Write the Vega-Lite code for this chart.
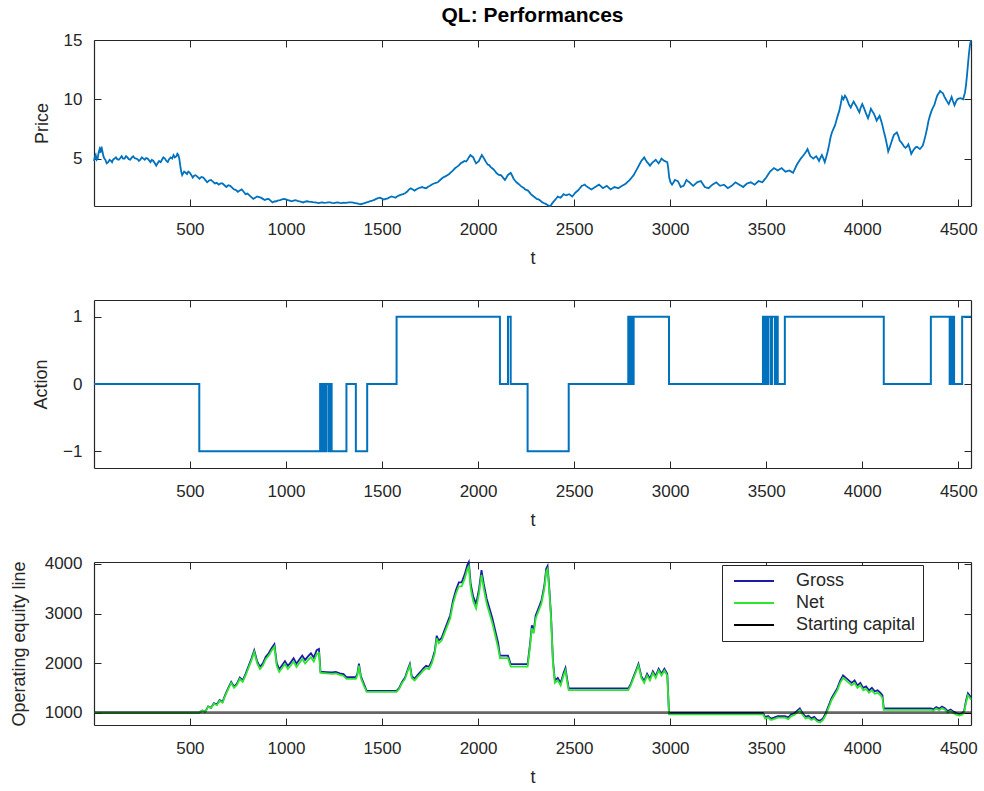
{
  "$schema": "https://vega.github.io/schema/vega-lite/v6.json",
  "background": "white",
  "padding": {"left": 10, "top": 5, "right": 10, "bottom": 4},
  "bounds": "flush",
  "spacing": 94,
  "config": {
    "font": "Liberation Sans",
    "view": {"stroke": null},
    "axis": {
      "grid": false,
      "domainColor": "#262626",
      "domainWidth": 1.2,
      "tickColor": "#262626",
      "tickWidth": 1,
      "tickSize": -7,
      "labelColor": "#262626",
      "labelFont": "Liberation Sans",
      "labelFontSize": 17,
      "labelFlush": false,
      "labelOverlap": false,
      "titleColor": "#262626",
      "titleFont": "Liberation Sans",
      "titleFontSize": 18,
      "titleFontWeight": "normal",
      "format": "d"
    },
    "axisX": {"labelPadding": 22, "titlePadding": 12},
    "axisY": {"labelPadding": 19, "titlePadding": 12},
    "line": {"strokeWidth": 1.8}
  },
  "datasets": {
    "price": [
      {"t": 1, "price": 4.8}, {"t": 5, "price": 5.1}, {"t": 10, "price": 5.3}, {"t": 15, "price": 4.9}, {"t": 20, "price": 5.0},
      {"t": 25, "price": 5.5}, {"t": 30, "price": 5.8}, {"t": 35, "price": 5.5}, {"t": 40, "price": 6.0}, {"t": 45, "price": 5.6},
      {"t": 50, "price": 5.2}, {"t": 55, "price": 5.0}, {"t": 60, "price": 4.9}, {"t": 67, "price": 4.6}, {"t": 75, "price": 4.7},
      {"t": 82, "price": 4.9}, {"t": 90, "price": 4.8}, {"t": 95, "price": 4.7}, {"t": 100, "price": 4.9}, {"t": 108, "price": 5.0},
      {"t": 115, "price": 5.1}, {"t": 122, "price": 4.95}, {"t": 130, "price": 4.9}, {"t": 138, "price": 5.05}, {"t": 145, "price": 5.2},
      {"t": 152, "price": 5.0}, {"t": 160, "price": 5.0}, {"t": 168, "price": 5.2}, {"t": 175, "price": 5.1}, {"t": 182, "price": 4.95},
      {"t": 190, "price": 4.9}, {"t": 198, "price": 5.1}, {"t": 205, "price": 5.2}, {"t": 212, "price": 5.05}, {"t": 220, "price": 5.0},
      {"t": 228, "price": 4.95}, {"t": 235, "price": 4.8}, {"t": 242, "price": 4.9}, {"t": 250, "price": 5.1}, {"t": 258, "price": 5.0},
      {"t": 265, "price": 4.9}, {"t": 272, "price": 5.05}, {"t": 280, "price": 5.0}, {"t": 288, "price": 4.85}, {"t": 295, "price": 4.7},
      {"t": 302, "price": 4.9}, {"t": 310, "price": 4.8}, {"t": 318, "price": 4.6}, {"t": 325, "price": 4.4}, {"t": 332, "price": 4.6},
      {"t": 340, "price": 4.8}, {"t": 348, "price": 4.7}, {"t": 355, "price": 4.9}, {"t": 362, "price": 5.1}, {"t": 370, "price": 5.0},
      {"t": 378, "price": 4.8}, {"t": 385, "price": 4.7}, {"t": 392, "price": 4.95}, {"t": 400, "price": 5.1}, {"t": 408, "price": 5.0},
      {"t": 415, "price": 5.3}, {"t": 422, "price": 5.1}, {"t": 430, "price": 5.2}, {"t": 435, "price": 5.4}, {"t": 440, "price": 5.3},
      {"t": 445, "price": 5.0}, {"t": 450, "price": 4.4}, {"t": 455, "price": 3.9}, {"t": 460, "price": 3.6}, {"t": 465, "price": 3.75},
      {"t": 470, "price": 3.9}, {"t": 478, "price": 3.8}, {"t": 485, "price": 3.7}, {"t": 492, "price": 3.9}, {"t": 500, "price": 3.8},
      {"t": 508, "price": 3.6}, {"t": 515, "price": 3.4}, {"t": 522, "price": 3.55}, {"t": 530, "price": 3.6}, {"t": 540, "price": 3.45},
      {"t": 550, "price": 3.3}, {"t": 560, "price": 3.45}, {"t": 570, "price": 3.4}, {"t": 580, "price": 3.2}, {"t": 590, "price": 3.0},
      {"t": 600, "price": 3.15}, {"t": 610, "price": 3.2}, {"t": 620, "price": 3.05}, {"t": 630, "price": 2.9}, {"t": 640, "price": 2.95},
      {"t": 650, "price": 2.8}, {"t": 660, "price": 2.9}, {"t": 670, "price": 2.9}, {"t": 680, "price": 2.75}, {"t": 690, "price": 2.6},
      {"t": 700, "price": 2.75}, {"t": 710, "price": 2.7}, {"t": 720, "price": 2.55}, {"t": 730, "price": 2.4}, {"t": 740, "price": 2.35},
      {"t": 750, "price": 2.2}, {"t": 760, "price": 2.3}, {"t": 770, "price": 2.4}, {"t": 780, "price": 2.2}, {"t": 790, "price": 2.0},
      {"t": 800, "price": 2.05}, {"t": 810, "price": 1.9}, {"t": 820, "price": 1.75}, {"t": 830, "price": 1.6}, {"t": 840, "price": 1.7},
      {"t": 850, "price": 1.8}, {"t": 860, "price": 1.75}, {"t": 870, "price": 1.7}, {"t": 880, "price": 1.6}, {"t": 890, "price": 1.5},
      {"t": 900, "price": 1.58}, {"t": 910, "price": 1.6}, {"t": 920, "price": 1.45}, {"t": 930, "price": 1.3}, {"t": 940, "price": 1.38},
      {"t": 950, "price": 1.4}, {"t": 960, "price": 1.47}, {"t": 970, "price": 1.5}, {"t": 980, "price": 1.55}, {"t": 990, "price": 1.6},
      {"t": 1000, "price": 1.55}, {"t": 1010, "price": 1.5}, {"t": 1020, "price": 1.45}, {"t": 1030, "price": 1.4}, {"t": 1040, "price": 1.46},
      {"t": 1050, "price": 1.5}, {"t": 1060, "price": 1.44}, {"t": 1070, "price": 1.4}, {"t": 1080, "price": 1.35}, {"t": 1090, "price": 1.3},
      {"t": 1100, "price": 1.37}, {"t": 1110, "price": 1.4}, {"t": 1120, "price": 1.36}, {"t": 1130, "price": 1.35}, {"t": 1140, "price": 1.32},
      {"t": 1150, "price": 1.3}, {"t": 1160, "price": 1.28}, {"t": 1170, "price": 1.25}, {"t": 1180, "price": 1.29}, {"t": 1190, "price": 1.3},
      {"t": 1200, "price": 1.27}, {"t": 1210, "price": 1.28}, {"t": 1220, "price": 1.31}, {"t": 1230, "price": 1.3}, {"t": 1240, "price": 1.27},
      {"t": 1250, "price": 1.25}, {"t": 1260, "price": 1.28}, {"t": 1270, "price": 1.3}, {"t": 1280, "price": 1.27}, {"t": 1290, "price": 1.25},
      {"t": 1300, "price": 1.28}, {"t": 1310, "price": 1.27}, {"t": 1320, "price": 1.29}, {"t": 1330, "price": 1.3}, {"t": 1340, "price": 1.3},
      {"t": 1350, "price": 1.28}, {"t": 1360, "price": 1.25}, {"t": 1370, "price": 1.22}, {"t": 1380, "price": 1.18}, {"t": 1390, "price": 1.15},
      {"t": 1400, "price": 1.2}, {"t": 1410, "price": 1.25}, {"t": 1420, "price": 1.3}, {"t": 1430, "price": 1.35}, {"t": 1440, "price": 1.42},
      {"t": 1450, "price": 1.45}, {"t": 1460, "price": 1.52}, {"t": 1470, "price": 1.6}, {"t": 1480, "price": 1.66}, {"t": 1490, "price": 1.7},
      {"t": 1500, "price": 1.62}, {"t": 1510, "price": 1.55}, {"t": 1520, "price": 1.6}, {"t": 1530, "price": 1.65}, {"t": 1540, "price": 1.74},
      {"t": 1550, "price": 1.8}, {"t": 1560, "price": 1.76}, {"t": 1570, "price": 1.7}, {"t": 1580, "price": 1.82}, {"t": 1590, "price": 1.9},
      {"t": 1600, "price": 1.96}, {"t": 1610, "price": 2.0}, {"t": 1620, "price": 2.08}, {"t": 1630, "price": 2.2}, {"t": 1640, "price": 2.38},
      {"t": 1650, "price": 2.5}, {"t": 1660, "price": 2.4}, {"t": 1670, "price": 2.3}, {"t": 1680, "price": 2.42}, {"t": 1690, "price": 2.5},
      {"t": 1700, "price": 2.56}, {"t": 1710, "price": 2.6}, {"t": 1720, "price": 2.52}, {"t": 1730, "price": 2.5}, {"t": 1740, "price": 2.62},
      {"t": 1750, "price": 2.7}, {"t": 1760, "price": 2.82}, {"t": 1770, "price": 2.9}, {"t": 1780, "price": 2.95}, {"t": 1790, "price": 3.0},
      {"t": 1800, "price": 3.15}, {"t": 1810, "price": 3.3}, {"t": 1820, "price": 3.42}, {"t": 1830, "price": 3.5}, {"t": 1840, "price": 3.6},
      {"t": 1850, "price": 3.7}, {"t": 1860, "price": 3.85}, {"t": 1870, "price": 4.0}, {"t": 1880, "price": 4.18}, {"t": 1890, "price": 4.3},
      {"t": 1900, "price": 4.42}, {"t": 1910, "price": 4.6}, {"t": 1920, "price": 4.7}, {"t": 1930, "price": 4.8}, {"t": 1938, "price": 4.75},
      {"t": 1945, "price": 4.9}, {"t": 1952, "price": 5.1}, {"t": 1960, "price": 5.3}, {"t": 1968, "price": 5.2}, {"t": 1975, "price": 5.1},
      {"t": 1982, "price": 4.85}, {"t": 1990, "price": 4.6}, {"t": 1998, "price": 4.7}, {"t": 2005, "price": 4.8}, {"t": 2012, "price": 5.05},
      {"t": 2020, "price": 5.3}, {"t": 2028, "price": 5.1}, {"t": 2035, "price": 4.9}, {"t": 2042, "price": 4.7}, {"t": 2050, "price": 4.5},
      {"t": 2058, "price": 4.45}, {"t": 2065, "price": 4.3}, {"t": 2072, "price": 4.2}, {"t": 2080, "price": 4.1}, {"t": 2088, "price": 3.95},
      {"t": 2095, "price": 3.8}, {"t": 2102, "price": 3.7}, {"t": 2110, "price": 3.6}, {"t": 2118, "price": 3.62}, {"t": 2125, "price": 3.5},
      {"t": 2132, "price": 3.35}, {"t": 2140, "price": 3.2}, {"t": 2148, "price": 3.4}, {"t": 2155, "price": 3.6}, {"t": 2162, "price": 3.7},
      {"t": 2170, "price": 3.8}, {"t": 2178, "price": 3.55}, {"t": 2185, "price": 3.3}, {"t": 2192, "price": 3.15}, {"t": 2200, "price": 3.0},
      {"t": 2208, "price": 2.9}, {"t": 2215, "price": 2.8}, {"t": 2222, "price": 2.7}, {"t": 2230, "price": 2.6}, {"t": 2238, "price": 2.52},
      {"t": 2245, "price": 2.4}, {"t": 2252, "price": 2.36}, {"t": 2260, "price": 2.3}, {"t": 2268, "price": 2.15}, {"t": 2275, "price": 2.0},
      {"t": 2282, "price": 1.9}, {"t": 2290, "price": 1.8}, {"t": 2298, "price": 1.7}, {"t": 2305, "price": 1.6}, {"t": 2312, "price": 1.58},
      {"t": 2320, "price": 1.5}, {"t": 2328, "price": 1.4}, {"t": 2335, "price": 1.3}, {"t": 2342, "price": 1.25}, {"t": 2350, "price": 1.2},
      {"t": 2358, "price": 1.12}, {"t": 2365, "price": 1.05}, {"t": 2370, "price": 1.02}, {"t": 2375, "price": 1.0}, {"t": 2380, "price": 1.08},
      {"t": 2385, "price": 1.2}, {"t": 2392, "price": 1.35}, {"t": 2400, "price": 1.5}, {"t": 2408, "price": 1.65}, {"t": 2415, "price": 1.8},
      {"t": 2422, "price": 1.75}, {"t": 2430, "price": 1.7}, {"t": 2438, "price": 1.85}, {"t": 2445, "price": 2.0}, {"t": 2452, "price": 1.95},
      {"t": 2460, "price": 1.9}, {"t": 2468, "price": 1.97}, {"t": 2475, "price": 2.0}, {"t": 2482, "price": 1.9}, {"t": 2490, "price": 1.8},
      {"t": 2498, "price": 1.95}, {"t": 2505, "price": 2.1}, {"t": 2512, "price": 2.2}, {"t": 2520, "price": 2.3}, {"t": 2530, "price": 2.5},
      {"t": 2540, "price": 2.7}, {"t": 2548, "price": 2.75}, {"t": 2555, "price": 2.8}, {"t": 2562, "price": 2.7}, {"t": 2570, "price": 2.6},
      {"t": 2580, "price": 2.5}, {"t": 2590, "price": 2.4}, {"t": 2600, "price": 2.5}, {"t": 2610, "price": 2.6}, {"t": 2620, "price": 2.7},
      {"t": 2630, "price": 2.8}, {"t": 2640, "price": 2.65}, {"t": 2650, "price": 2.5}, {"t": 2660, "price": 2.6}, {"t": 2670, "price": 2.7},
      {"t": 2680, "price": 2.55}, {"t": 2690, "price": 2.4}, {"t": 2700, "price": 2.5}, {"t": 2710, "price": 2.6}, {"t": 2720, "price": 2.55},
      {"t": 2730, "price": 2.5}, {"t": 2740, "price": 2.6}, {"t": 2750, "price": 2.7}, {"t": 2760, "price": 2.8}, {"t": 2770, "price": 2.9},
      {"t": 2780, "price": 3.05}, {"t": 2790, "price": 3.2}, {"t": 2800, "price": 3.4}, {"t": 2810, "price": 3.6}, {"t": 2820, "price": 3.9},
      {"t": 2830, "price": 4.2}, {"t": 2840, "price": 4.5}, {"t": 2850, "price": 4.8}, {"t": 2858, "price": 4.95}, {"t": 2865, "price": 5.1},
      {"t": 2872, "price": 4.9}, {"t": 2880, "price": 4.7}, {"t": 2888, "price": 4.55}, {"t": 2895, "price": 4.4}, {"t": 2902, "price": 4.55},
      {"t": 2910, "price": 4.7}, {"t": 2918, "price": 4.8}, {"t": 2925, "price": 4.9}, {"t": 2932, "price": 4.75}, {"t": 2940, "price": 4.6},
      {"t": 2948, "price": 4.8}, {"t": 2955, "price": 5.0}, {"t": 2962, "price": 4.9}, {"t": 2970, "price": 4.8}, {"t": 2978, "price": 4.75},
      {"t": 2985, "price": 4.7}, {"t": 2990, "price": 4.2}, {"t": 2995, "price": 3.4}, {"t": 3002, "price": 3.0}, {"t": 3010, "price": 2.8},
      {"t": 3018, "price": 3.0}, {"t": 3025, "price": 3.2}, {"t": 3032, "price": 3.15}, {"t": 3040, "price": 3.1}, {"t": 3048, "price": 2.85},
      {"t": 3055, "price": 2.6}, {"t": 3062, "price": 2.65}, {"t": 3070, "price": 2.7}, {"t": 3078, "price": 2.95}, {"t": 3085, "price": 3.2},
      {"t": 3092, "price": 3.1}, {"t": 3100, "price": 3.0}, {"t": 3110, "price": 2.85}, {"t": 3120, "price": 2.7}, {"t": 3130, "price": 2.85},
      {"t": 3140, "price": 3.0}, {"t": 3150, "price": 3.05}, {"t": 3160, "price": 3.1}, {"t": 3170, "price": 2.85}, {"t": 3180, "price": 2.6},
      {"t": 3190, "price": 2.55}, {"t": 3200, "price": 2.5}, {"t": 3210, "price": 2.65}, {"t": 3220, "price": 2.8}, {"t": 3230, "price": 2.9},
      {"t": 3240, "price": 3.0}, {"t": 3250, "price": 2.85}, {"t": 3260, "price": 2.7}, {"t": 3270, "price": 2.75}, {"t": 3280, "price": 2.8},
      {"t": 3290, "price": 2.65}, {"t": 3300, "price": 2.5}, {"t": 3310, "price": 2.6}, {"t": 3320, "price": 2.7}, {"t": 3330, "price": 2.85},
      {"t": 3340, "price": 3.0}, {"t": 3350, "price": 2.9}, {"t": 3360, "price": 2.8}, {"t": 3370, "price": 2.7}, {"t": 3380, "price": 2.6},
      {"t": 3390, "price": 2.75}, {"t": 3400, "price": 2.9}, {"t": 3410, "price": 2.95}, {"t": 3420, "price": 3.0}, {"t": 3430, "price": 2.9},
      {"t": 3440, "price": 2.8}, {"t": 3450, "price": 2.95}, {"t": 3460, "price": 3.1}, {"t": 3470, "price": 3.05}, {"t": 3480, "price": 3.0},
      {"t": 3490, "price": 3.2}, {"t": 3500, "price": 3.4}, {"t": 3510, "price": 3.65}, {"t": 3520, "price": 3.9}, {"t": 3530, "price": 4.05},
      {"t": 3540, "price": 4.2}, {"t": 3550, "price": 4.1}, {"t": 3560, "price": 4.0}, {"t": 3570, "price": 4.1}, {"t": 3580, "price": 4.2},
      {"t": 3590, "price": 4.05}, {"t": 3600, "price": 3.9}, {"t": 3610, "price": 3.95}, {"t": 3620, "price": 4.0}, {"t": 3630, "price": 3.9},
      {"t": 3640, "price": 3.8}, {"t": 3650, "price": 4.15}, {"t": 3660, "price": 4.5}, {"t": 3670, "price": 4.75}, {"t": 3680, "price": 5.0},
      {"t": 3690, "price": 5.2}, {"t": 3700, "price": 5.4}, {"t": 3708, "price": 5.6}, {"t": 3715, "price": 5.8}, {"t": 3722, "price": 5.5},
      {"t": 3730, "price": 5.2}, {"t": 3738, "price": 5.1}, {"t": 3745, "price": 5.0}, {"t": 3752, "price": 5.1}, {"t": 3760, "price": 5.2},
      {"t": 3768, "price": 5.0}, {"t": 3775, "price": 4.8}, {"t": 3782, "price": 5.05}, {"t": 3790, "price": 5.3}, {"t": 3798, "price": 5.0},
      {"t": 3805, "price": 4.7}, {"t": 3812, "price": 5.1}, {"t": 3820, "price": 5.6}, {"t": 3828, "price": 6.2}, {"t": 3835, "price": 6.8},
      {"t": 3842, "price": 7.2}, {"t": 3850, "price": 7.5}, {"t": 3858, "price": 7.8}, {"t": 3865, "price": 8.2}, {"t": 3872, "price": 8.6},
      {"t": 3880, "price": 9.0}, {"t": 3888, "price": 9.6}, {"t": 3895, "price": 10.2}, {"t": 3902, "price": 10.0}, {"t": 3910, "price": 10.3},
      {"t": 3918, "price": 10.1}, {"t": 3925, "price": 9.8}, {"t": 3932, "price": 9.5}, {"t": 3940, "price": 9.3}, {"t": 3948, "price": 9.6},
      {"t": 3955, "price": 9.8}, {"t": 3962, "price": 9.6}, {"t": 3970, "price": 9.4}, {"t": 3978, "price": 9.1}, {"t": 3985, "price": 8.9},
      {"t": 3992, "price": 9.3}, {"t": 4000, "price": 9.6}, {"t": 4008, "price": 9.3}, {"t": 4015, "price": 9.0}, {"t": 4022, "price": 8.7},
      {"t": 4030, "price": 8.4}, {"t": 4038, "price": 8.8}, {"t": 4045, "price": 9.2}, {"t": 4052, "price": 9.0}, {"t": 4060, "price": 8.8},
      {"t": 4068, "price": 8.5}, {"t": 4075, "price": 8.2}, {"t": 4082, "price": 8.4}, {"t": 4090, "price": 8.6}, {"t": 4098, "price": 8.2},
      {"t": 4105, "price": 7.8}, {"t": 4112, "price": 7.3}, {"t": 4120, "price": 6.8}, {"t": 4128, "price": 6.2}, {"t": 4135, "price": 5.6},
      {"t": 4142, "price": 5.9}, {"t": 4150, "price": 6.3}, {"t": 4158, "price": 6.7}, {"t": 4165, "price": 7.0}, {"t": 4172, "price": 7.1},
      {"t": 4180, "price": 7.2}, {"t": 4188, "price": 6.9}, {"t": 4195, "price": 6.5}, {"t": 4202, "price": 6.4}, {"t": 4210, "price": 6.2},
      {"t": 4218, "price": 6.0}, {"t": 4225, "price": 5.9}, {"t": 4232, "price": 6.0}, {"t": 4240, "price": 6.2}, {"t": 4248, "price": 5.8},
      {"t": 4255, "price": 5.4}, {"t": 4262, "price": 5.6}, {"t": 4270, "price": 5.8}, {"t": 4278, "price": 5.95}, {"t": 4285, "price": 6.0},
      {"t": 4292, "price": 5.9}, {"t": 4300, "price": 5.8}, {"t": 4308, "price": 5.95}, {"t": 4315, "price": 6.1}, {"t": 4322, "price": 6.5},
      {"t": 4330, "price": 7.0}, {"t": 4338, "price": 7.6}, {"t": 4345, "price": 8.2}, {"t": 4352, "price": 8.6}, {"t": 4360, "price": 9.0},
      {"t": 4368, "price": 9.3}, {"t": 4375, "price": 9.5}, {"t": 4382, "price": 9.9}, {"t": 4390, "price": 10.3}, {"t": 4398, "price": 10.5},
      {"t": 4405, "price": 10.7}, {"t": 4412, "price": 10.6}, {"t": 4420, "price": 10.5}, {"t": 4428, "price": 10.2}, {"t": 4435, "price": 10.0},
      {"t": 4442, "price": 9.8}, {"t": 4450, "price": 9.6}, {"t": 4458, "price": 9.9}, {"t": 4465, "price": 10.2}, {"t": 4472, "price": 9.85},
      {"t": 4480, "price": 9.5}, {"t": 4488, "price": 9.8}, {"t": 4495, "price": 10.0}, {"t": 4502, "price": 10.05}, {"t": 4510, "price": 10.1},
      {"t": 4518, "price": 10.05}, {"t": 4525, "price": 10.0}, {"t": 4530, "price": 10.3}, {"t": 4535, "price": 10.6}, {"t": 4540, "price": 11.2},
      {"t": 4545, "price": 12.0}, {"t": 4550, "price": 12.9}, {"t": 4555, "price": 13.8}, {"t": 4560, "price": 14.5}, {"t": 4566, "price": 15.0}
    ],
    "action": [
      {"t": 1, "action": 0}, {"t": 549, "action": -1},
      {"t": 1178, "action": 0}, {"t": 1186, "action": -1}, {"t": 1194, "action": 0}, {"t": 1202, "action": -1},
      {"t": 1210, "action": 0}, {"t": 1222, "action": -1}, {"t": 1230, "action": 0}, {"t": 1238, "action": -1},
      {"t": 1315, "action": 0}, {"t": 1364, "action": -1}, {"t": 1423, "action": 0},
      {"t": 1576, "action": 1}, {"t": 2114, "action": 0}, {"t": 2156, "action": 1}, {"t": 2170, "action": 0},
      {"t": 2258, "action": -1}, {"t": 2472, "action": 0},
      {"t": 2782, "action": 1}, {"t": 2790, "action": 0}, {"t": 2797, "action": 1}, {"t": 2803, "action": 0}, {"t": 2810, "action": 1},
      {"t": 2994, "action": 0},
      {"t": 3483, "action": 1}, {"t": 3490, "action": 0}, {"t": 3497, "action": 1}, {"t": 3505, "action": 0}, {"t": 3512, "action": 1},
      {"t": 3525, "action": 0}, {"t": 3530, "action": 1}, {"t": 3545, "action": 0}, {"t": 3550, "action": 1}, {"t": 3560, "action": 0},
      {"t": 3597, "action": 1}, {"t": 4112, "action": 0}, {"t": 4357, "action": 1},
      {"t": 4455, "action": 0}, {"t": 4460, "action": 1}, {"t": 4465, "action": 0}, {"t": 4470, "action": 1}, {"t": 4478, "action": 0},
      {"t": 4520, "action": 1}, {"t": 4566, "action": 1}
    ],
    "equity": [
      {"t": 1, "series": "Gross", "value": 1000}, {"t": 549, "series": "Gross", "value": 1000}, {"t": 565, "series": "Gross", "value": 1042},
      {"t": 580, "series": "Gross", "value": 1014}, {"t": 595, "series": "Gross", "value": 1126}, {"t": 610, "series": "Gross", "value": 1098},
      {"t": 625, "series": "Gross", "value": 1190}, {"t": 640, "series": "Gross", "value": 1162}, {"t": 655, "series": "Gross", "value": 1254},
      {"t": 670, "series": "Gross", "value": 1216}, {"t": 685, "series": "Gross", "value": 1368}, {"t": 700, "series": "Gross", "value": 1500},
      {"t": 715, "series": "Gross", "value": 1622}, {"t": 730, "series": "Gross", "value": 1524}, {"t": 745, "series": "Gross", "value": 1586},
      {"t": 760, "series": "Gross", "value": 1708}, {"t": 775, "series": "Gross", "value": 1650}, {"t": 790, "series": "Gross", "value": 1782},
      {"t": 805, "series": "Gross", "value": 1934}, {"t": 820, "series": "Gross", "value": 2086}, {"t": 835, "series": "Gross", "value": 2258},
      {"t": 850, "series": "Gross", "value": 2040}, {"t": 865, "series": "Gross", "value": 1922}, {"t": 880, "series": "Gross", "value": 1994},
      {"t": 895, "series": "Gross", "value": 2126}, {"t": 910, "series": "Gross", "value": 2198}, {"t": 925, "series": "Gross", "value": 2300},
      {"t": 940, "series": "Gross", "value": 2382}, {"t": 952, "series": "Gross", "value": 2004}, {"t": 965, "series": "Gross", "value": 1876},
      {"t": 980, "series": "Gross", "value": 1958}, {"t": 995, "series": "Gross", "value": 2040}, {"t": 1010, "series": "Gross", "value": 1942},
      {"t": 1025, "series": "Gross", "value": 2014}, {"t": 1040, "series": "Gross", "value": 2096}, {"t": 1055, "series": "Gross", "value": 1988},
      {"t": 1070, "series": "Gross", "value": 2070}, {"t": 1085, "series": "Gross", "value": 2152}, {"t": 1100, "series": "Gross", "value": 2064},
      {"t": 1115, "series": "Gross", "value": 2136}, {"t": 1130, "series": "Gross", "value": 2198}, {"t": 1145, "series": "Gross", "value": 2110},
      {"t": 1160, "series": "Gross", "value": 2262}, {"t": 1172, "series": "Gross", "value": 2284}, {"t": 1180, "series": "Gross", "value": 1826},
      {"t": 1210, "series": "Gross", "value": 1818}, {"t": 1240, "series": "Gross", "value": 1810}, {"t": 1260, "series": "Gross", "value": 1822},
      {"t": 1280, "series": "Gross", "value": 1794}, {"t": 1300, "series": "Gross", "value": 1776}, {"t": 1315, "series": "Gross", "value": 1716},
      {"t": 1364, "series": "Gross", "value": 1716}, {"t": 1372, "series": "Gross", "value": 1788}, {"t": 1380, "series": "Gross", "value": 1990},
      {"t": 1390, "series": "Gross", "value": 1740}, {"t": 1405, "series": "Gross", "value": 1590}, {"t": 1420, "series": "Gross", "value": 1440},
      {"t": 1576, "series": "Gross", "value": 1440}, {"t": 1590, "series": "Gross", "value": 1502}, {"t": 1605, "series": "Gross", "value": 1624},
      {"t": 1620, "series": "Gross", "value": 1706}, {"t": 1635, "series": "Gross", "value": 1880}, {"t": 1645, "series": "Gross", "value": 1982},
      {"t": 1655, "series": "Gross", "value": 1734}, {"t": 1670, "series": "Gross", "value": 1686}, {"t": 1685, "series": "Gross", "value": 1758},
      {"t": 1700, "series": "Gross", "value": 1820}, {"t": 1715, "series": "Gross", "value": 1892}, {"t": 1730, "series": "Gross", "value": 1944},
      {"t": 1745, "series": "Gross", "value": 1926}, {"t": 1760, "series": "Gross", "value": 2048}, {"t": 1775, "series": "Gross", "value": 2250},
      {"t": 1785, "series": "Gross", "value": 2552}, {"t": 1795, "series": "Gross", "value": 2454}, {"t": 1810, "series": "Gross", "value": 2506},
      {"t": 1825, "series": "Gross", "value": 2660}, {"t": 1840, "series": "Gross", "value": 2812}, {"t": 1855, "series": "Gross", "value": 2966},
      {"t": 1870, "series": "Gross", "value": 3270}, {"t": 1885, "series": "Gross", "value": 3474}, {"t": 1900, "series": "Gross", "value": 3628},
      {"t": 1915, "series": "Gross", "value": 3630}, {"t": 1930, "series": "Gross", "value": 3784}, {"t": 1945, "series": "Gross", "value": 3986},
      {"t": 1952, "series": "Gross", "value": 4040}, {"t": 1962, "series": "Gross", "value": 3590}, {"t": 1975, "series": "Gross", "value": 3340},
      {"t": 1990, "series": "Gross", "value": 3192}, {"t": 2005, "series": "Gross", "value": 3494}, {"t": 2018, "series": "Gross", "value": 3876},
      {"t": 2030, "series": "Gross", "value": 3598}, {"t": 2045, "series": "Gross", "value": 3300}, {"t": 2060, "series": "Gross", "value": 3100},
      {"t": 2075, "series": "Gross", "value": 2900}, {"t": 2090, "series": "Gross", "value": 2650}, {"t": 2105, "series": "Gross", "value": 2400},
      {"t": 2114, "series": "Gross", "value": 2150}, {"t": 2156, "series": "Gross", "value": 2150}, {"t": 2170, "series": "Gross", "value": 1980},
      {"t": 2258, "series": "Gross", "value": 1980}, {"t": 2270, "series": "Gross", "value": 2360}, {"t": 2280, "series": "Gross", "value": 2760},
      {"t": 2290, "series": "Gross", "value": 2660}, {"t": 2300, "series": "Gross", "value": 2960}, {"t": 2315, "series": "Gross", "value": 3110},
      {"t": 2330, "series": "Gross", "value": 3260}, {"t": 2345, "series": "Gross", "value": 3560}, {"t": 2355, "series": "Gross", "value": 3910},
      {"t": 2362, "series": "Gross", "value": 3960}, {"t": 2370, "series": "Gross", "value": 3560}, {"t": 2380, "series": "Gross", "value": 2960},
      {"t": 2390, "series": "Gross", "value": 2050}, {"t": 2400, "series": "Gross", "value": 1650}, {"t": 2415, "series": "Gross", "value": 1700},
      {"t": 2430, "series": "Gross", "value": 1600}, {"t": 2445, "series": "Gross", "value": 1800}, {"t": 2455, "series": "Gross", "value": 1900},
      {"t": 2465, "series": "Gross", "value": 1650}, {"t": 2472, "series": "Gross", "value": 1490}, {"t": 2782, "series": "Gross", "value": 1490},
      {"t": 2795, "series": "Gross", "value": 1580}, {"t": 2810, "series": "Gross", "value": 1730}, {"t": 2825, "series": "Gross", "value": 1880},
      {"t": 2835, "series": "Gross", "value": 1985}, {"t": 2850, "series": "Gross", "value": 1735}, {"t": 2865, "series": "Gross", "value": 1635},
      {"t": 2880, "series": "Gross", "value": 1785}, {"t": 2895, "series": "Gross", "value": 1685}, {"t": 2910, "series": "Gross", "value": 1835},
      {"t": 2925, "series": "Gross", "value": 1735}, {"t": 2940, "series": "Gross", "value": 1885}, {"t": 2955, "series": "Gross", "value": 1785},
      {"t": 2970, "series": "Gross", "value": 1885}, {"t": 2985, "series": "Gross", "value": 1785}, {"t": 2994, "series": "Gross", "value": 995},
      {"t": 3483, "series": "Gross", "value": 995}, {"t": 3495, "series": "Gross", "value": 910}, {"t": 3510, "series": "Gross", "value": 930},
      {"t": 3525, "series": "Gross", "value": 880}, {"t": 3540, "series": "Gross", "value": 900}, {"t": 3560, "series": "Gross", "value": 930},
      {"t": 3597, "series": "Gross", "value": 930}, {"t": 3615, "series": "Gross", "value": 905}, {"t": 3630, "series": "Gross", "value": 965},
      {"t": 3645, "series": "Gross", "value": 985}, {"t": 3660, "series": "Gross", "value": 1035}, {"t": 3675, "series": "Gross", "value": 1085},
      {"t": 3690, "series": "Gross", "value": 985}, {"t": 3705, "series": "Gross", "value": 915}, {"t": 3720, "series": "Gross", "value": 935},
      {"t": 3735, "series": "Gross", "value": 885}, {"t": 3750, "series": "Gross", "value": 915}, {"t": 3765, "series": "Gross", "value": 855},
      {"t": 3780, "series": "Gross", "value": 835}, {"t": 3795, "series": "Gross", "value": 885}, {"t": 3810, "series": "Gross", "value": 990},
      {"t": 3825, "series": "Gross", "value": 1140}, {"t": 3840, "series": "Gross", "value": 1290}, {"t": 3855, "series": "Gross", "value": 1390},
      {"t": 3870, "series": "Gross", "value": 1495}, {"t": 3885, "series": "Gross", "value": 1645}, {"t": 3900, "series": "Gross", "value": 1750},
      {"t": 3915, "series": "Gross", "value": 1700}, {"t": 3930, "series": "Gross", "value": 1650}, {"t": 3945, "series": "Gross", "value": 1600},
      {"t": 3960, "series": "Gross", "value": 1650}, {"t": 3975, "series": "Gross", "value": 1550}, {"t": 3990, "series": "Gross", "value": 1600},
      {"t": 4005, "series": "Gross", "value": 1500}, {"t": 4020, "series": "Gross", "value": 1530}, {"t": 4035, "series": "Gross", "value": 1450},
      {"t": 4050, "series": "Gross", "value": 1500}, {"t": 4065, "series": "Gross", "value": 1430}, {"t": 4080, "series": "Gross", "value": 1450},
      {"t": 4095, "series": "Gross", "value": 1400}, {"t": 4105, "series": "Gross", "value": 1350}, {"t": 4112, "series": "Gross", "value": 1085},
      {"t": 4357, "series": "Gross", "value": 1085}, {"t": 4370, "series": "Gross", "value": 1070}, {"t": 4385, "series": "Gross", "value": 1110},
      {"t": 4400, "series": "Gross", "value": 1080}, {"t": 4415, "series": "Gross", "value": 1120}, {"t": 4430, "series": "Gross", "value": 1090},
      {"t": 4445, "series": "Gross", "value": 1030}, {"t": 4460, "series": "Gross", "value": 1060}, {"t": 4475, "series": "Gross", "value": 1020},
      {"t": 4490, "series": "Gross", "value": 990}, {"t": 4505, "series": "Gross", "value": 970}, {"t": 4520, "series": "Gross", "value": 990},
      {"t": 4530, "series": "Gross", "value": 1030}, {"t": 4540, "series": "Gross", "value": 1240}, {"t": 4550, "series": "Gross", "value": 1390},
      {"t": 4560, "series": "Gross", "value": 1340}, {"t": 4566, "series": "Gross", "value": 1300},

      {"t": 1, "series": "Net", "value": 1000}, {"t": 549, "series": "Net", "value": 1000}, {"t": 565, "series": "Net", "value": 1040},
      {"t": 580, "series": "Net", "value": 1010}, {"t": 595, "series": "Net", "value": 1120}, {"t": 610, "series": "Net", "value": 1090},
      {"t": 625, "series": "Net", "value": 1180}, {"t": 640, "series": "Net", "value": 1150}, {"t": 655, "series": "Net", "value": 1240},
      {"t": 670, "series": "Net", "value": 1200}, {"t": 685, "series": "Net", "value": 1350}, {"t": 700, "series": "Net", "value": 1480},
      {"t": 715, "series": "Net", "value": 1600}, {"t": 730, "series": "Net", "value": 1500}, {"t": 745, "series": "Net", "value": 1560},
      {"t": 760, "series": "Net", "value": 1680}, {"t": 775, "series": "Net", "value": 1620}, {"t": 790, "series": "Net", "value": 1750},
      {"t": 805, "series": "Net", "value": 1900}, {"t": 820, "series": "Net", "value": 2050}, {"t": 835, "series": "Net", "value": 2220},
      {"t": 850, "series": "Net", "value": 2000}, {"t": 865, "series": "Net", "value": 1880}, {"t": 880, "series": "Net", "value": 1950},
      {"t": 895, "series": "Net", "value": 2080}, {"t": 910, "series": "Net", "value": 2150}, {"t": 925, "series": "Net", "value": 2250},
      {"t": 940, "series": "Net", "value": 2330}, {"t": 952, "series": "Net", "value": 1950}, {"t": 965, "series": "Net", "value": 1820},
      {"t": 980, "series": "Net", "value": 1900}, {"t": 995, "series": "Net", "value": 1980}, {"t": 1010, "series": "Net", "value": 1880},
      {"t": 1025, "series": "Net", "value": 1950}, {"t": 1040, "series": "Net", "value": 2030}, {"t": 1055, "series": "Net", "value": 1920},
      {"t": 1070, "series": "Net", "value": 2000}, {"t": 1085, "series": "Net", "value": 2080}, {"t": 1100, "series": "Net", "value": 1990},
      {"t": 1115, "series": "Net", "value": 2060}, {"t": 1130, "series": "Net", "value": 2120}, {"t": 1145, "series": "Net", "value": 2030},
      {"t": 1160, "series": "Net", "value": 2180}, {"t": 1172, "series": "Net", "value": 2200}, {"t": 1180, "series": "Net", "value": 1800},
      {"t": 1210, "series": "Net", "value": 1790}, {"t": 1240, "series": "Net", "value": 1780}, {"t": 1260, "series": "Net", "value": 1790},
      {"t": 1280, "series": "Net", "value": 1760}, {"t": 1300, "series": "Net", "value": 1740}, {"t": 1315, "series": "Net", "value": 1680},
      {"t": 1364, "series": "Net", "value": 1680}, {"t": 1372, "series": "Net", "value": 1750}, {"t": 1380, "series": "Net", "value": 1950},
      {"t": 1390, "series": "Net", "value": 1700}, {"t": 1405, "series": "Net", "value": 1550}, {"t": 1420, "series": "Net", "value": 1420},
      {"t": 1576, "series": "Net", "value": 1420}, {"t": 1590, "series": "Net", "value": 1480}, {"t": 1605, "series": "Net", "value": 1600},
      {"t": 1620, "series": "Net", "value": 1680}, {"t": 1635, "series": "Net", "value": 1850}, {"t": 1645, "series": "Net", "value": 1950},
      {"t": 1655, "series": "Net", "value": 1700}, {"t": 1670, "series": "Net", "value": 1650}, {"t": 1685, "series": "Net", "value": 1720},
      {"t": 1700, "series": "Net", "value": 1780}, {"t": 1715, "series": "Net", "value": 1850}, {"t": 1730, "series": "Net", "value": 1900},
      {"t": 1745, "series": "Net", "value": 1880}, {"t": 1760, "series": "Net", "value": 2000}, {"t": 1775, "series": "Net", "value": 2200},
      {"t": 1785, "series": "Net", "value": 2500}, {"t": 1795, "series": "Net", "value": 2400}, {"t": 1810, "series": "Net", "value": 2450},
      {"t": 1825, "series": "Net", "value": 2600}, {"t": 1840, "series": "Net", "value": 2750}, {"t": 1855, "series": "Net", "value": 2900},
      {"t": 1870, "series": "Net", "value": 3200}, {"t": 1885, "series": "Net", "value": 3400}, {"t": 1900, "series": "Net", "value": 3550},
      {"t": 1915, "series": "Net", "value": 3550}, {"t": 1930, "series": "Net", "value": 3700}, {"t": 1945, "series": "Net", "value": 3900},
      {"t": 1952, "series": "Net", "value": 3950}, {"t": 1962, "series": "Net", "value": 3500}, {"t": 1975, "series": "Net", "value": 3250},
      {"t": 1990, "series": "Net", "value": 3100}, {"t": 2005, "series": "Net", "value": 3400}, {"t": 2018, "series": "Net", "value": 3780},
      {"t": 2030, "series": "Net", "value": 3500}, {"t": 2045, "series": "Net", "value": 3200}, {"t": 2060, "series": "Net", "value": 3000},
      {"t": 2075, "series": "Net", "value": 2800}, {"t": 2090, "series": "Net", "value": 2550}, {"t": 2105, "series": "Net", "value": 2300},
      {"t": 2114, "series": "Net", "value": 2100}, {"t": 2156, "series": "Net", "value": 2100}, {"t": 2170, "series": "Net", "value": 1930},
      {"t": 2258, "series": "Net", "value": 1930}, {"t": 2270, "series": "Net", "value": 2300}, {"t": 2280, "series": "Net", "value": 2700},
      {"t": 2290, "series": "Net", "value": 2600}, {"t": 2300, "series": "Net", "value": 2900}, {"t": 2315, "series": "Net", "value": 3050},
      {"t": 2330, "series": "Net", "value": 3200}, {"t": 2345, "series": "Net", "value": 3500}, {"t": 2355, "series": "Net", "value": 3850},
      {"t": 2362, "series": "Net", "value": 3900}, {"t": 2370, "series": "Net", "value": 3500}, {"t": 2380, "series": "Net", "value": 2900},
      {"t": 2390, "series": "Net", "value": 2000}, {"t": 2400, "series": "Net", "value": 1600}, {"t": 2415, "series": "Net", "value": 1650},
      {"t": 2430, "series": "Net", "value": 1550}, {"t": 2445, "series": "Net", "value": 1750}, {"t": 2455, "series": "Net", "value": 1850},
      {"t": 2465, "series": "Net", "value": 1600}, {"t": 2472, "series": "Net", "value": 1455}, {"t": 2782, "series": "Net", "value": 1455},
      {"t": 2795, "series": "Net", "value": 1550}, {"t": 2810, "series": "Net", "value": 1700}, {"t": 2825, "series": "Net", "value": 1850},
      {"t": 2835, "series": "Net", "value": 1950}, {"t": 2850, "series": "Net", "value": 1700}, {"t": 2865, "series": "Net", "value": 1600},
      {"t": 2880, "series": "Net", "value": 1750}, {"t": 2895, "series": "Net", "value": 1650}, {"t": 2910, "series": "Net", "value": 1800},
      {"t": 2925, "series": "Net", "value": 1700}, {"t": 2940, "series": "Net", "value": 1850}, {"t": 2955, "series": "Net", "value": 1750},
      {"t": 2970, "series": "Net", "value": 1850}, {"t": 2985, "series": "Net", "value": 1750}, {"t": 2994, "series": "Net", "value": 965},
      {"t": 3483, "series": "Net", "value": 965}, {"t": 3495, "series": "Net", "value": 880}, {"t": 3510, "series": "Net", "value": 900},
      {"t": 3525, "series": "Net", "value": 850}, {"t": 3540, "series": "Net", "value": 870}, {"t": 3560, "series": "Net", "value": 900},
      {"t": 3597, "series": "Net", "value": 900}, {"t": 3615, "series": "Net", "value": 870}, {"t": 3630, "series": "Net", "value": 930},
      {"t": 3645, "series": "Net", "value": 950}, {"t": 3660, "series": "Net", "value": 1000}, {"t": 3675, "series": "Net", "value": 1050},
      {"t": 3690, "series": "Net", "value": 950}, {"t": 3705, "series": "Net", "value": 880}, {"t": 3720, "series": "Net", "value": 900},
      {"t": 3735, "series": "Net", "value": 850}, {"t": 3750, "series": "Net", "value": 880}, {"t": 3765, "series": "Net", "value": 820},
      {"t": 3780, "series": "Net", "value": 800}, {"t": 3795, "series": "Net", "value": 850}, {"t": 3810, "series": "Net", "value": 950},
      {"t": 3825, "series": "Net", "value": 1100}, {"t": 3840, "series": "Net", "value": 1250}, {"t": 3855, "series": "Net", "value": 1350},
      {"t": 3870, "series": "Net", "value": 1450}, {"t": 3885, "series": "Net", "value": 1600}, {"t": 3900, "series": "Net", "value": 1700},
      {"t": 3915, "series": "Net", "value": 1650}, {"t": 3930, "series": "Net", "value": 1600}, {"t": 3945, "series": "Net", "value": 1550},
      {"t": 3960, "series": "Net", "value": 1600}, {"t": 3975, "series": "Net", "value": 1500}, {"t": 3990, "series": "Net", "value": 1550},
      {"t": 4005, "series": "Net", "value": 1450}, {"t": 4020, "series": "Net", "value": 1480}, {"t": 4035, "series": "Net", "value": 1400},
      {"t": 4050, "series": "Net", "value": 1450}, {"t": 4065, "series": "Net", "value": 1380}, {"t": 4080, "series": "Net", "value": 1400},
      {"t": 4095, "series": "Net", "value": 1350}, {"t": 4105, "series": "Net", "value": 1300}, {"t": 4112, "series": "Net", "value": 1055},
      {"t": 4357, "series": "Net", "value": 1055}, {"t": 4370, "series": "Net", "value": 1040}, {"t": 4385, "series": "Net", "value": 1080},
      {"t": 4400, "series": "Net", "value": 1050}, {"t": 4415, "series": "Net", "value": 1090}, {"t": 4430, "series": "Net", "value": 1060},
      {"t": 4445, "series": "Net", "value": 1000}, {"t": 4460, "series": "Net", "value": 1030}, {"t": 4475, "series": "Net", "value": 990},
      {"t": 4490, "series": "Net", "value": 960}, {"t": 4505, "series": "Net", "value": 940}, {"t": 4520, "series": "Net", "value": 960},
      {"t": 4530, "series": "Net", "value": 1000}, {"t": 4540, "series": "Net", "value": 1200}, {"t": 4550, "series": "Net", "value": 1350},
      {"t": 4560, "series": "Net", "value": 1300}, {"t": 4566, "series": "Net", "value": 1260}
    ],
    "capital": [
      {"t": 1, "series": "Starting capital", "value": 1000},
      {"t": 4566, "series": "Starting capital", "value": 1000}
    ]
  },
  "vconcat": [
    {
      "title": {"text": "QL: Performances", "font": "Liberation Sans", "fontSize": 21, "fontWeight": "bold", "color": "#000000", "offset": 5},
      "width": 877,
      "height": 166,
      "data": {"name": "price"},
      "layer": [
        {
          "mark": {"type": "line", "color": "#0072BD"},
          "encoding": {
            "x": {"field": "t", "type": "quantitative", "scale": {"domain": [1, 4566], "nice": false, "zero": false},
                  "axis": {"orient": "bottom", "values": [500, 1000, 1500, 2000, 2500, 3000, 3500, 4000, 4500], "title": "t"}},
            "y": {"field": "price", "type": "quantitative", "scale": {"domain": [1, 15], "nice": false, "zero": false},
                  "axis": {"orient": "left", "values": [5, 10, 15], "title": "Price"}}
          }
        },
        {
          "mark": {"type": "line", "opacity": 0},
          "encoding": {
            "x": {"field": "t", "type": "quantitative",
                  "axis": {"orient": "top", "values": [500, 1000, 1500, 2000, 2500, 3000, 3500, 4000, 4500], "labels": false, "title": null}},
            "y": {"field": "price", "type": "quantitative",
                  "axis": {"orient": "right", "values": [5, 10, 15], "labels": false, "title": null}}
          }
        }
      ]
    },
    {
      "width": 877,
      "height": 168,
      "data": {"name": "action"},
      "layer": [
        {
          "mark": {"type": "line", "color": "#0072BD", "interpolate": "step-after", "strokeWidth": 2},
          "encoding": {
            "x": {"field": "t", "type": "quantitative", "scale": {"domain": [1, 4566], "nice": false, "zero": false},
                  "axis": {"orient": "bottom", "values": [500, 1000, 1500, 2000, 2500, 3000, 3500, 4000, 4500], "title": "t"}},
            "y": {"field": "action", "type": "quantitative", "scale": {"domain": [-1.25, 1.25], "nice": false, "zero": false},
                  "axis": {"orient": "left", "values": [-1, 0, 1], "title": "Action"}}
          }
        },
        {
          "mark": {"type": "line", "opacity": 0, "interpolate": "step-after"},
          "encoding": {
            "x": {"field": "t", "type": "quantitative",
                  "axis": {"orient": "top", "values": [500, 1000, 1500, 2000, 2500, 3000, 3500, 4000, 4500], "labels": false, "title": null}},
            "y": {"field": "action", "type": "quantitative",
                  "axis": {"orient": "right", "values": [-1, 0, 1], "labels": false, "title": null}}
          }
        }
      ]
    },
    {
      "width": 877,
      "height": 163,
      "layer": [
        {
          "data": {"name": "equity"},
          "mark": {"type": "line", "strokeWidth": 1.8},
          "encoding": {
            "x": {"field": "t", "type": "quantitative", "scale": {"domain": [1, 4566], "nice": false, "zero": false},
                  "axis": {"orient": "bottom", "values": [500, 1000, 1500, 2000, 2500, 3000, 3500, 4000, 4500], "title": "t"}},
            "y": {"field": "value", "type": "quantitative", "scale": {"domain": [750, 4040], "nice": false, "zero": false},
                  "axis": {"orient": "left", "values": [1000, 2000, 3000, 4000], "title": "Operating equity line", "titlePadding": 16}},
            "color": {"field": "series", "type": "nominal",
                      "scale": {"domain": ["Gross", "Net", "Starting capital"], "range": ["#1c1ca8", "#2ee62e", "#000000"]},
                      "legend": {"orient": "none", "legendX": 628, "legendY": 525, "title": null,
                                 "strokeColor": "#262626", "fillColor": "white", "padding": 7,
                                 "symbolType": "M-0.8,0H7.2", "symbolSize": 100, "symbolStrokeWidth": 1.5, "symbolOpacity": 1,
                                 "labelFont": "Liberation Sans", "labelFontSize": 18, "labelColor": "#262626",
                                 "labelOffset": 49, "rowPadding": 4}}
          }
        },
        {
          "data": {"name": "capital"},
          "mark": {"type": "line", "strokeWidth": 2.8, "opacity": 0.6},
          "encoding": {
            "x": {"field": "t", "type": "quantitative",
                  "axis": {"orient": "top", "values": [500, 1000, 1500, 2000, 2500, 3000, 3500, 4000, 4500], "labels": false, "title": null}},
            "y": {"field": "value", "type": "quantitative",
                  "axis": {"orient": "right", "values": [1000, 2000, 3000, 4000], "labels": false, "title": null}},
            "color": {"field": "series", "type": "nominal"}
          }
        }
      ]
    }
  ]
}
